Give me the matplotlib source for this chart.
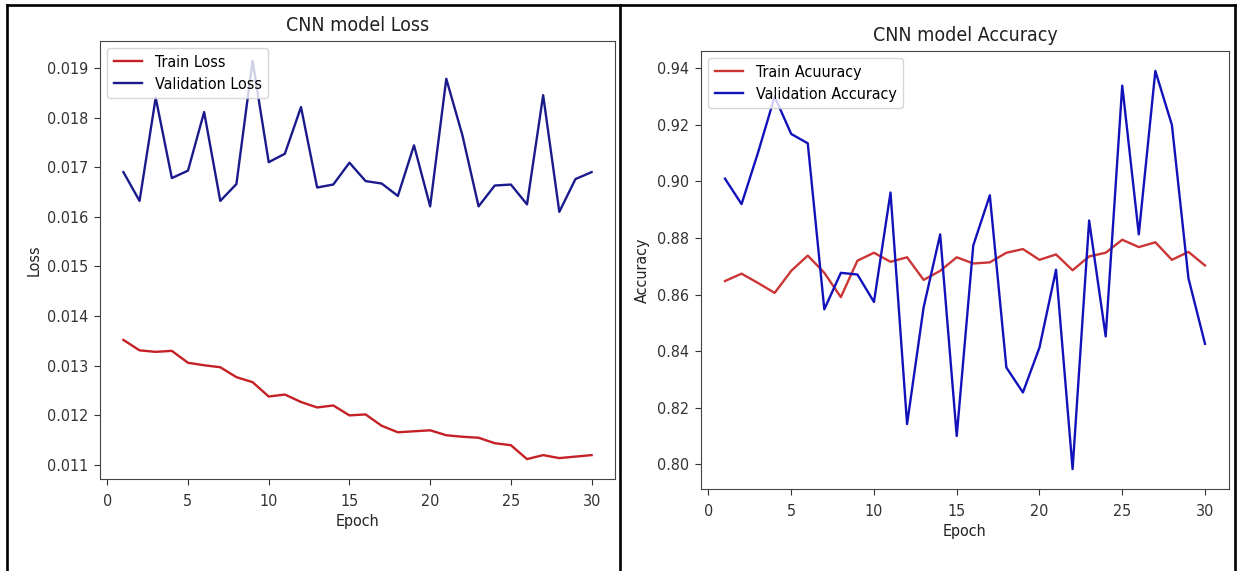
import matplotlib
matplotlib.use("Agg")
import matplotlib.pyplot as plt
from matplotlib import font_manager
from matplotlib.lines import Line2D

# ---- data ----
epochs = list(range(1, 31))

train_loss = [0.01352, 0.01331, 0.01328, 0.01330, 0.01306, 0.01301, 0.01297, 0.01277,
              0.01267, 0.01238, 0.01242, 0.01227, 0.01216, 0.01220, 0.01200, 0.01202,
              0.01179, 0.01166, 0.01168, 0.01170, 0.01160, 0.01157, 0.01155, 0.01144,
              0.01140, 0.01112, 0.01120, 0.01114, 0.01117, 0.01120]
val_loss = [0.01690, 0.01632, 0.01840, 0.01678, 0.01693, 0.01811, 0.01632, 0.01666,
            0.01914, 0.01710, 0.01727, 0.01821, 0.01659, 0.01665, 0.01709, 0.01672,
            0.01667, 0.01642, 0.01744, 0.01621, 0.01878, 0.01764, 0.01621, 0.01663,
            0.01665, 0.01625, 0.01845, 0.01610, 0.01676, 0.01690]

train_acc = [0.8648, 0.8674, 0.8641, 0.8606, 0.8684, 0.8738, 0.8677, 0.8591,
             0.8720, 0.8748, 0.8716, 0.8732, 0.8652, 0.8684, 0.8732, 0.8710,
             0.8714, 0.8748, 0.8761, 0.8723, 0.8742, 0.8686, 0.8735, 0.8748,
             0.8794, 0.8768, 0.8785, 0.8723, 0.8751, 0.8703]
val_acc = [0.9010, 0.8920, 0.9103, 0.9300, 0.9168, 0.9135, 0.8548, 0.8677,
           0.8671, 0.8574, 0.8961, 0.8142, 0.8555, 0.8813, 0.8100, 0.8774,
           0.8951, 0.8342, 0.8254, 0.8413, 0.8688, 0.7983, 0.8862, 0.8452,
           0.9339, 0.8813, 0.9391, 0.9200, 0.8658, 0.8426]

# the original text is squeezed sideways; use the condensed DejaVu face if present
plt.rcParams["font.family"] = ["DejaVu Sans"]
condensed = any(f.name == "DejaVu Sans" and f.stretch in ("condensed", 700)
                for f in font_manager.fontManager.ttflist)
if condensed:
    plt.rcParams["font.stretch"] = "condensed"
    FS_TICK, FS_LAB, FS_TITLE, FS_LEG = 11.5, 11.5, 14, 11.5
else:
    FS_TICK, FS_LAB, FS_TITLE, FS_LEG = 10.5, 10.5, 13, 10.5

W, H = 1240, 571
fig = plt.figure(figsize=(W / 100, H / 100), dpi=100)
fig.patch.set_facecolor("white")


def box(x0, y0, x1, y1):
    # pixel box (top-left origin) -> figure fraction rect
    return [x0 / W, 1 - y1 / H, (x1 - x0) / W, (y1 - y0) / H]


def style(ax, title, ylabel, ylabelpad):
    ax.set_title(title, fontsize=FS_TITLE, pad=7.5, color="#222222")
    ax.set_xlabel("Epoch", fontsize=FS_LAB, labelpad=4, color="#222222")
    ax.set_ylabel(ylabel, fontsize=FS_LAB, labelpad=ylabelpad, color="#222222")
    ax.tick_params(labelsize=FS_TICK, length=4, pad=4.5, colors="#333333")
    ax.tick_params(axis="x", pad=6.5)
    for sp in ax.spines.values():
        sp.set_color("#444444")
    ax.legend(loc="upper left", fontsize=FS_LEG, handlelength=1.8,
              borderaxespad=0.45, labelspacing=0.45)


ax1 = fig.add_axes(box(100, 41, 615, 479))
ax1.plot(epochs, train_loss, color="#c42026", lw=1.7, label="Train Loss")
ax1.plot(epochs, val_loss, color="#1a1a8c", lw=1.7, label="Validation Loss")
style(ax1, "CNN model Loss", "Loss", 4)

ax2 = fig.add_axes(box(701, 51, 1229, 489))
ax2.plot(epochs, train_acc, color="#cc3535", lw=1.7, label="Train Acuuracy")
ax2.plot(epochs, val_acc, color="#1212bb", lw=1.7, label="Validation Accuracy")
style(ax2, "CNN model Accuracy", "Accuracy", 5)

# table-cell borders around the two pictures
lw = 1.9
for xs, ys in [((7, 1235), (5, 5)), ((7, 7), (5, H)), ((619.5, 619.5), (5, H)),
               ((1235, 1235), (5, H))]:
    fig.add_artist(Line2D([x / W for x in xs], [1 - y / H for y in ys],
                          color="black", lw=lw, transform=fig.transFigure))

fig.savefig("out.png", dpi=100)
